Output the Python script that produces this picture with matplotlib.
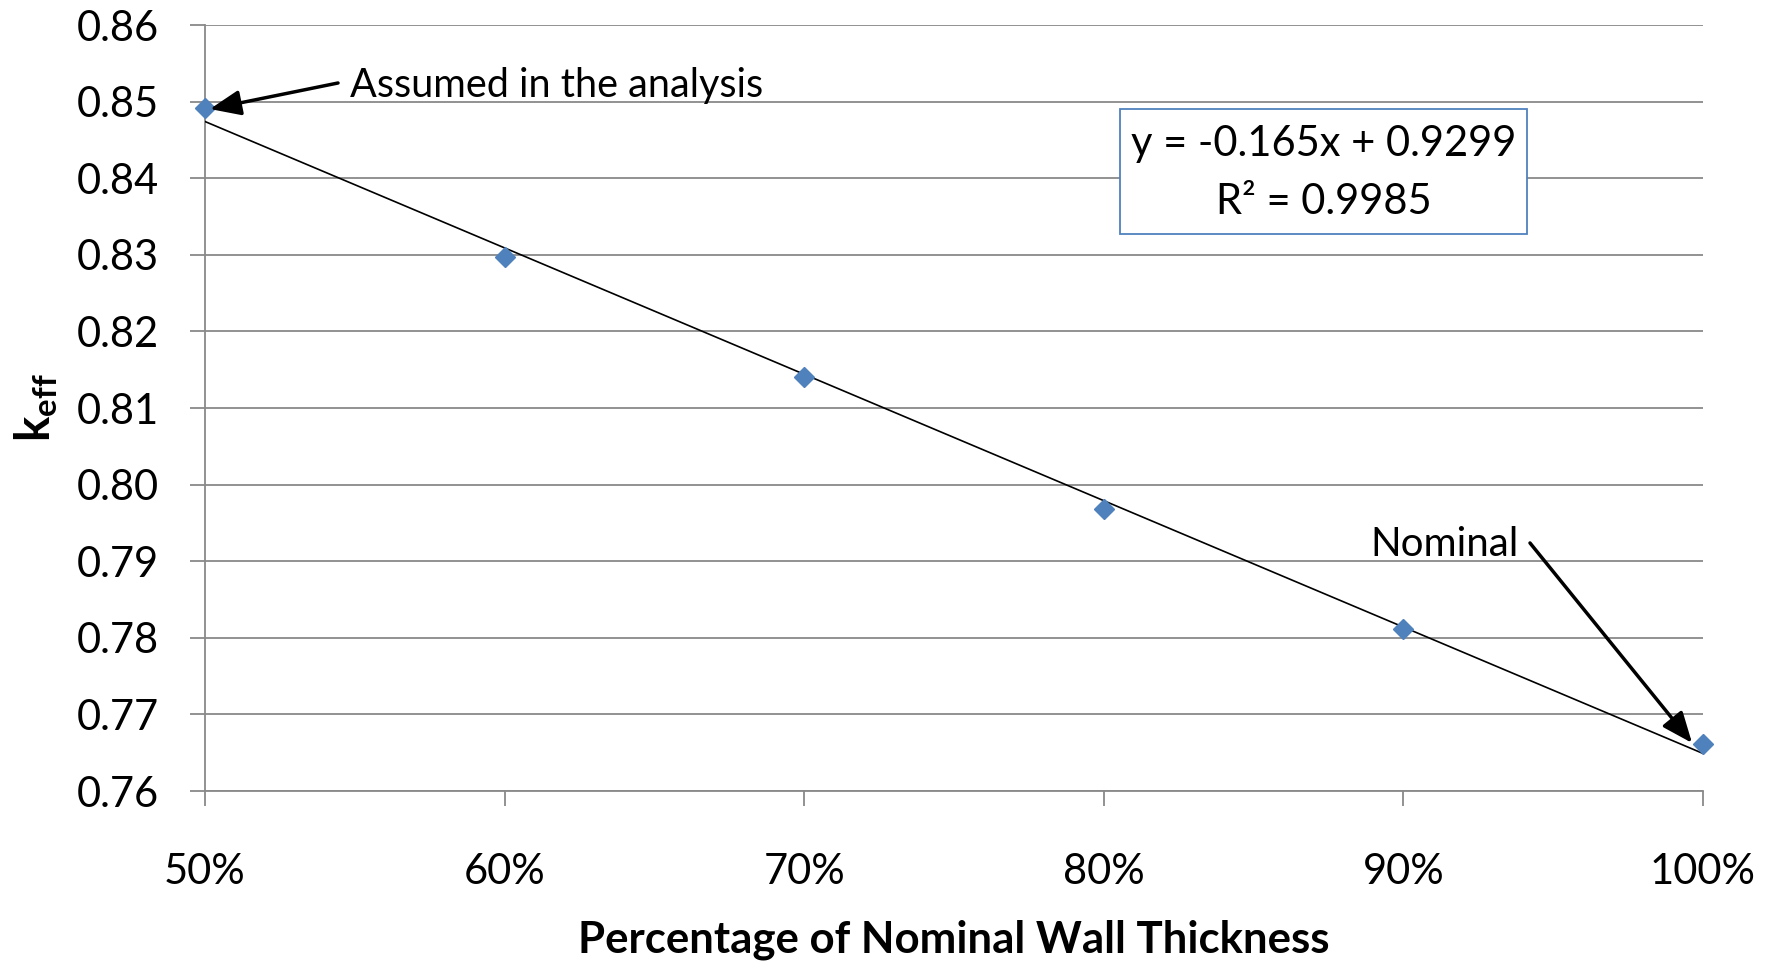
import numpy as np
import matplotlib
matplotlib.use('Agg')
import matplotlib.pyplot as plt
from matplotlib.patches import Rectangle

plt.rcParams['font.family'] = ['Lato', 'DejaVu Sans']
plt.rcParams['mathtext.fontset'] = 'custom'
plt.rcParams['mathtext.bf'] = 'Lato:bold'
plt.rcParams['mathtext.rm'] = 'Lato'

# data
thickness = [0.5, 0.6, 0.7, 0.8, 0.9, 1.0]
keff = [0.8492, 0.8297, 0.8141, 0.7968, 0.7812, 0.7662]
x_ticks = [0.5, 0.6, 0.7, 0.8, 0.9, 1.0]
x_tick_labels = ['50%', '60%', '70%', '80%', '90%', '100%']
y_ticks = [0.76, 0.77, 0.78, 0.79, 0.80, 0.81, 0.82, 0.83, 0.84, 0.85, 0.86]
trend_slope = -0.165
trend_intercept = 0.9299
eq_text = 'y = -0.165x + 0.9299'
r2_text = 'R² = 0.9985'

grey = '#898989'
blue = '#4F81BD'
fs = 30

fig = plt.figure(figsize=(17.78, 9.69), dpi=100)
ax = fig.add_axes([205/1778, 1-791/969, 1498/1778, 766/969])

# trend line
xt = np.array([thickness[0], thickness[-1]])
ax.plot(xt, trend_slope*xt + trend_intercept, color='black', lw=1.2, zorder=3)
ax.plot(thickness, keff, linestyle='none', marker='D', ms=10.5, color=blue, zorder=4, clip_on=False)

ax.set_xlim(0.5, 1.0)
ax.set_ylim(0.76, 0.86)
ax.set_xticks(x_ticks)
ax.set_xticklabels(x_tick_labels)
ax.set_yticks(y_ticks)
ax.set_yticklabels(['%.2f' % v for v in y_ticks])
ax.grid(axis='y', color=grey, lw=1.3)
ax.set_axisbelow(True)
for s in ['top', 'right']:
    ax.spines[s].set_visible(False)
for s in ['left', 'bottom']:
    ax.spines[s].set_color(grey)
    ax.spines[s].set_linewidth(1.3)
ax.tick_params(axis='both', colors=grey, labelcolor='black', labelsize=fs, width=1.3, length=11)
ax.tick_params(axis='y', pad=22)
ax.tick_params(axis='x', pad=34)

ax.set_xlabel('Percentage of Nominal Wall Thickness', fontsize=31.5, fontweight='bold', labelpad=20)
ax.set_ylabel(r'$\mathbf{k_{eff}}$', fontsize=fs+4, labelpad=12)

# equation box
ax.add_patch(Rectangle((0.6108, 0.7272), 0.2717, 0.1631, transform=ax.transAxes,
                       facecolor='white', edgecolor=blue, lw=1.3, zorder=5))
ax.text(0.7466, 0.8444, eq_text, transform=ax.transAxes, ha='center', va='center', fontsize=fs, zorder=6)
ax.text(0.7466, 0.7687, r2_text, transform=ax.transAxes, ha='center', va='center', fontsize=fs, zorder=6)

# annotations
arrow = dict(arrowstyle='-|>,head_length=0.85,head_width=0.35', lw=2.5, color='black',
             mutation_scale=22, shrinkA=0, shrinkB=0)
ax.annotate('', xy=(0.0033, 0.8903), xytext=(0.0888, 0.9243), xycoords='axes fraction',
            textcoords='axes fraction', arrowprops=arrow, zorder=6)
ax.text(0.0968, 0.906, 'Assumed in the analysis', transform=ax.transAxes, fontsize=28.5, va='baseline')
ax.annotate('', xy=(0.9927, 0.0627), xytext=(0.8845, 0.3238), xycoords='axes fraction',
            textcoords='axes fraction', arrowprops=arrow, zorder=6)
ax.text(0.7777, 0.3068, 'Nominal', transform=ax.transAxes, fontsize=29, va='baseline')

fig.savefig('out.png', dpi=100)
